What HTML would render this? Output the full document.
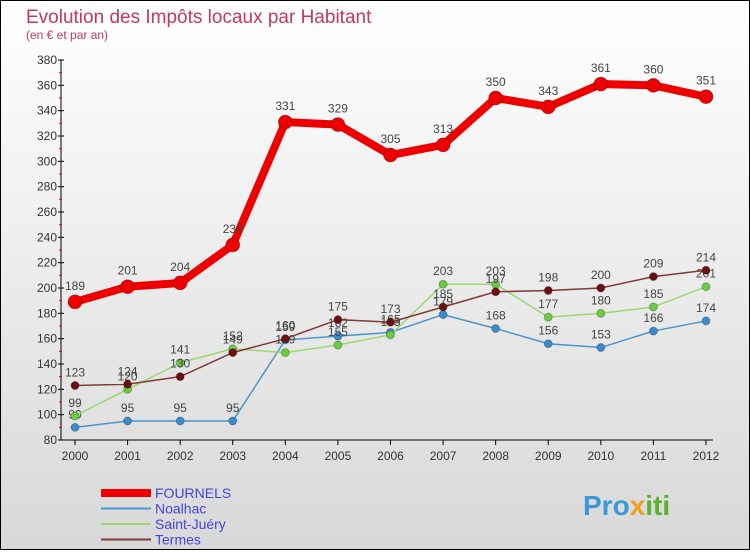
<!DOCTYPE html>
<html><head><meta charset="utf-8"><style>
body{margin:0;}
#wrap{width:748px;height:548px;border:1px solid #000;background:linear-gradient(#fff,#d8d8d8);position:relative;font-family:"Liberation Sans",sans-serif;}
</style></head><body>
<div id="wrap">
<svg id="chart" width="748" height="548">
<text x="25" y="22" font-size="19" fill="#c0395e">Evolution des Impôts locaux par Habitant</text>
<text x="25" y="38" font-size="12" fill="#c0395e">(en € et par an)</text>
<g id="axes"></g><g id="series"></g><g id="legend"></g>
<text x="582" y="514" font-size="28" font-weight="bold" fill="#3a9ad9">Pro<tspan fill="#f0a020">x</tspan><tspan fill="#5ab030">iti</tspan></text>
</svg>
</div>
<script>
const years=[2000,2001,2002,2003,2004,2005,2006,2007,2008,2009,2010,2011,2012];
const yTicks=[80,100,120,140,160,180,200,220,240,260,280,300,320,340,360,380];
const fournels=[189,201,204,234,331,329,305,313,350,343,361,360,351];
const noalhac=[90,95,95,95,159,162,165,179,168,156,153,166,174];
const saintJuery=[99,120,141,152,149,155,163,203,203,177,180,185,201];
const termes=[123,124,130,149,160,175,173,185,197,198,200,209,214];
const NS="http://www.w3.org/2000/svg";
const X=i=>74+i*(705-74)/12;
const Y=v=>439-(v-80)*(380/300);
function mk(t,a,p){const e=document.createElementNS(NS,t);for(const k in a)e.setAttribute(k,a[k]);p.appendChild(e);return e;}
const ax=document.getElementById('axes');
let l=mk('line',{x1:60,y1:Y(380),x2:60,y2:Y(80),stroke:'#000'},ax);


l=mk('line',{x1:60,y1:Y(80),x2:712,y2:Y(80),stroke:'#000'},ax);


yTicks.forEach(v=>{
  mk('line',{x1:57,y1:Y(v),x2:63,y2:Y(v),stroke:'#000'},ax);
  if(v<380)mk('line',{x1:58,y1:Y(v+10),x2:61,y2:Y(v+10),stroke:'#e00'},ax);
  const t=mk('text',{x:56,y:Y(v)+4,'font-size':12,'text-anchor':'end',fill:'#333'},ax);t.textContent=v;
  
  
});
years.forEach((y,i)=>{
  mk('line',{x1:X(i),y1:Y(80),x2:X(i),y2:Y(80)+5,stroke:'#000'},ax);
  const t=mk('text',{x:X(i),y:Y(80)+20,'font-size':12,'text-anchor':'middle',fill:'#333'},ax);t.textContent=y;
  
  
});
const sg=document.getElementById('series');
const defs=[
 {d:noalhac,c:'#4a94c8',w:1.5,r:4,fc:'#3a8ad0',n:'noalhac'},
 {d:saintJuery,c:'#9ad870',w:1.5,r:4,fc:'#6ccc40',n:'saint-juery'},
 {d:termes,c:'#803838',w:1.5,r:4,fc:'#6a1010',n:'termes'},
 {d:fournels,c:'#ee0000',w:8,r:7,fc:'#ee0000',n:'fournels'}];
defs.forEach(s=>{
  const g=mk('g',{},sg);
  
  
  const p=mk('polyline',{points:s.d.map((v,i)=>X(i)+','+Y(v)).join(' '),fill:'none',stroke:s.c,'stroke-width':s.w},g);
  
  
  s.d.forEach((v,i)=>{
    const c=mk('circle',{cx:X(i),cy:Y(v),r:s.r,fill:s.fc,stroke:'rgba(0,0,0,0.25)'},g);
    
    
    const t=mk('text',{x:X(i),y:Y(v)-(s.r+5),'font-size':12,'text-anchor':'middle',fill:'#444'},g);t.textContent=v;
    
    
  });
});
const lg=document.getElementById('legend');
[['FOURNELS','#ee0000',8],['Noalhac','#4a94c8',2],['Saint-Juéry','#9ad870',2],['Termes','#803838',2]].forEach((e,i)=>{
  const y=492+i*15.5;
  const g=mk('g',{},lg);
  
  
  mk('line',{x1:100,y1:y,x2:150,y2:y,stroke:e[1],'stroke-width':e[2]},g);
  const t=mk('text',{x:154,y:y+5,'font-size':14,fill:'#4444dd'},g);t.textContent=e[0];
});
</script>
</body></html>
